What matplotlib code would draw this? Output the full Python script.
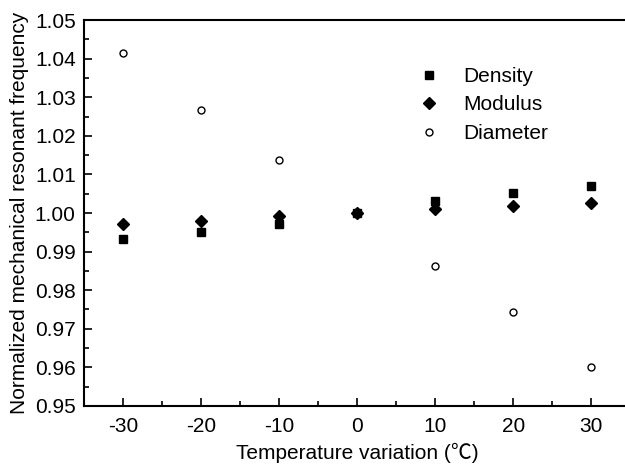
import matplotlib
matplotlib.use("Agg")
import matplotlib.pyplot as plt
from matplotlib.ticker import MultipleLocator, FormatStrFormatter

plt.rcParams["font.family"] = ["Liberation Sans", "Noto Sans CJK SC", "DejaVu Sans"]
plt.rcParams["axes.unicode_minus"] = False

# Temperature variation (deg C)
temps = [-30, -20, -10, 0, 10, 20, 30]

# Normalized mechanical resonant frequency
density = [0.9933, 0.9952, 0.9972, 1.0000, 1.0031, 1.0051, 1.0071]
modulus = [0.9972, 0.9980, 0.9992, 1.0000, 1.0010, 1.0018, 1.0027]
diameter = [1.0415, 1.0267, 1.0137, 1.0000, 0.9863, 0.9744, 0.9602]

fig = plt.figure(figsize=(6.25, 4.66), dpi=100)
ax = fig.add_axes([0.1344, 0.1288, 0.874, 0.8282])

ax.plot(temps, density, linestyle="none", marker="s", markersize=6,
        color="black", label="Density", zorder=3)
ax.plot(temps, modulus, linestyle="none", marker="D", markersize=6,
        color="black", label="Modulus", zorder=3)
ax.plot(temps, diameter, linestyle="none", marker="o", markersize=5,
        markerfacecolor="white", markeredgecolor="black", markeredgewidth=1,
        label="Diameter", zorder=2)

ax.set_xlim(-35, 35)
ax.set_ylim(0.95, 1.05)
ax.xaxis.set_major_locator(MultipleLocator(10))
ax.xaxis.set_minor_locator(MultipleLocator(5))
ax.yaxis.set_major_locator(MultipleLocator(0.01))
ax.yaxis.set_minor_locator(MultipleLocator(0.005))
ax.yaxis.set_major_formatter(FormatStrFormatter("%.2f"))

ax.tick_params(which="both", direction="in", top=False, right=False,
               labelsize=15, width=1.2)
ax.tick_params(which="major", length=6)
ax.tick_params(axis="x", which="major", pad=8)
ax.tick_params(axis="y", which="major", pad=6)
ax.tick_params(which="minor", length=3.5)
for s in ax.spines.values():
    s.set_linewidth(1.5)

ax.set_xlabel("Temperature variation (\u2103)", fontsize=15, labelpad=5)
ax.set_ylabel("Normalized mechanical resonant frequency", fontsize=15, labelpad=4)

ax.legend(loc="upper left", bbox_to_anchor=(0.609, 0.878), frameon=False,
          fontsize=15, handlelength=1.2, handletextpad=1.03, labelspacing=0.45,
          borderpad=0, borderaxespad=0)

fig.savefig("out.png", dpi=100)
